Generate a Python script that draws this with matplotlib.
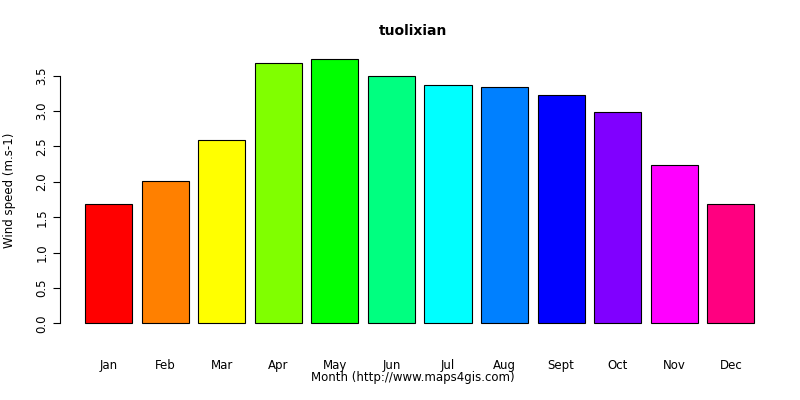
import matplotlib
matplotlib.use("Agg")
import matplotlib.pyplot as plt

months = ["Jan", "Feb", "Mar", "Apr", "May", "Jun", "Jul", "Aug", "Sept", "Oct", "Nov", "Dec"]
wind = [1.69, 2.01, 2.59, 3.68, 3.74, 3.50, 3.37, 3.34, 3.23, 2.99, 2.24, 1.69]
colors = ["#FF0000", "#FF8000", "#FFFF00", "#80FF00", "#00FF00", "#00FF80",
          "#00FFFF", "#0080FF", "#0000FF", "#8000FF", "#FF00FF", "#FF0080"]
yticks = [0.0, 0.5, 1.0, 1.5, 2.0, 2.5, 3.0, 3.5]

W, H = 800, 400
fig = plt.figure(figsize=(8, 4), dpi=100)
ax = fig.add_axes([60 / W, 1 - 334 / H, (770 - 60) / W, (334 - 48) / H])

xs = [0.7 + 1.2 * i for i in range(len(months))]
ax.bar(xs, wind, width=1.0, color=colors, edgecolor="black", linewidth=0.8)

ax.set_xlim(-0.33, 14.73)
ax.set_ylim(-0.15, 3.89)
for s in ["top", "right", "bottom"]:
    ax.spines[s].set_visible(False)
ax.spines["left"].set_bounds(0, 3.5)
ax.set_yticks(yticks)
ax.set_yticklabels([f"{v:.1f}" for v in yticks], rotation=90, va="center", fontsize=8.5)
ax.set_xticks(xs)
ax.set_xticklabels(months, fontsize=8.5)
ax.tick_params(axis="x", length=0, pad=18)
ax.tick_params(axis="y", length=5)

fig.text(413 / W, 1 - 31 / H, "tuolixian", ha="center", va="center", fontsize=10, fontweight="bold")
fig.text(413 / W, 1 - 378 / H, "Month (http://www.maps4gis.com)", ha="center", va="center", fontsize=8.5)
fig.text(10 / W, 1 - 190 / H, "Wind speed (m.s-1)", ha="center", va="center", rotation=90, fontsize=8.5)

fig.savefig("out.png", dpi=100)
